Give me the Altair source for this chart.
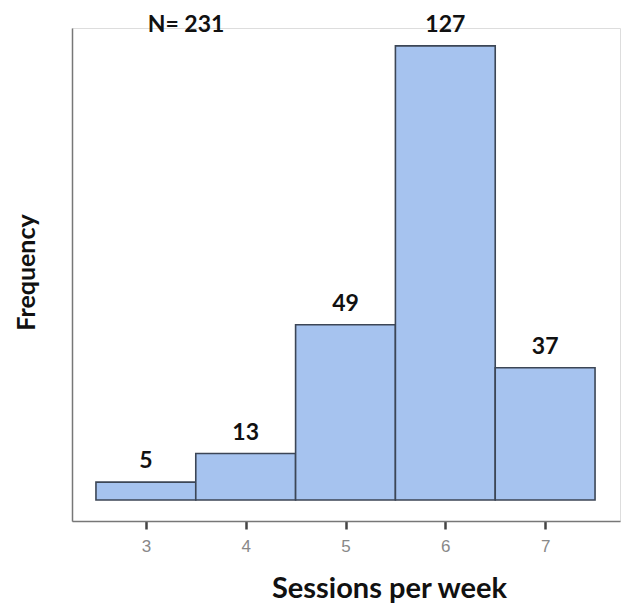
import altair as alt
import pandas as pd

sessions = [3, 4, 5, 6, 7]
counts = [5, 13, 49, 127, 37]
total_label = "N= 231"

df = pd.DataFrame({
    "sessions": sessions,
    "count": counts,
    "start": [s - 0.5 for s in sessions],
    "end": [s + 0.5 for s in sessions],
    "label": [str(c) for c in counts],
})

xscale = alt.Scale(domain=[2.26, 7.75], nice=False, zero=False)
yscale = alt.Scale(domain=[-5.87, 132.0], nice=False, zero=False)

base = alt.Chart(df)

bars = base.mark_rect(fill="#a6c3ef", stroke="#3c4656", strokeWidth=1.6).encode(
    x=alt.X("start:Q", scale=xscale,
            axis=alt.Axis(values=sessions, format="d", title="Sessions per week",
                          grid=False, domainColor="#777777", domainWidth=1.5,
                          tickColor="#444444", tickWidth=2.5, tickSize=8,
                          labelColor="#888888", labelFontSize=17,
                          labelFont="Liberation Sans", labelPadding=9,
                          titleFont="Lato", titleFontSize=29, titleFontWeight="bold",
                          titleColor="#111111", titleX=317, titleY=76,
                          titleBaseline="alphabetic")),
    x2="end:Q",
    y=alt.Y("count:Q", scale=yscale,
            axis=alt.Axis(title="Frequency", grid=False, ticks=False, labels=False,
                          domainColor="#777777", domainWidth=1.5,
                          titleFont="Lato", titleFontSize=25, titleFontWeight="bold",
                          titleColor="#111111", titleX=-38, titleY=244,
                          titleBaseline="alphabetic", titleAngle=-90, titleAlign="center")),
    y2=alt.datum(0),
)

labels = base.mark_text(font="Lato", fontSize=23, fontWeight="bold", color="#111111",
                        baseline="alphabetic", dy=-14).encode(
    x=alt.X("sessions:Q", scale=xscale),
    y=alt.Y("count:Q", scale=yscale),
    text="label:N",
)

ntext = alt.Chart(pd.DataFrame({"t": [total_label]})).mark_text(
    font="Lato", fontSize=23, fontWeight="bold", color="#111111",
    baseline="alphabetic", align="center").encode(
    x=alt.value(114), y=alt.value(4), text="t:N")

chart = alt.layer(bars, labels, ntext).properties(
    width=548, height=493,
    autosize=alt.AutoSizeParams(type="none"),
    padding={"left": 64, "top": 20, "right": 2, "bottom": 86},
).configure_view(stroke=None).configure(background="white")

chart.save("out.html", embed_options={"renderer": "svg", "actions": False})
